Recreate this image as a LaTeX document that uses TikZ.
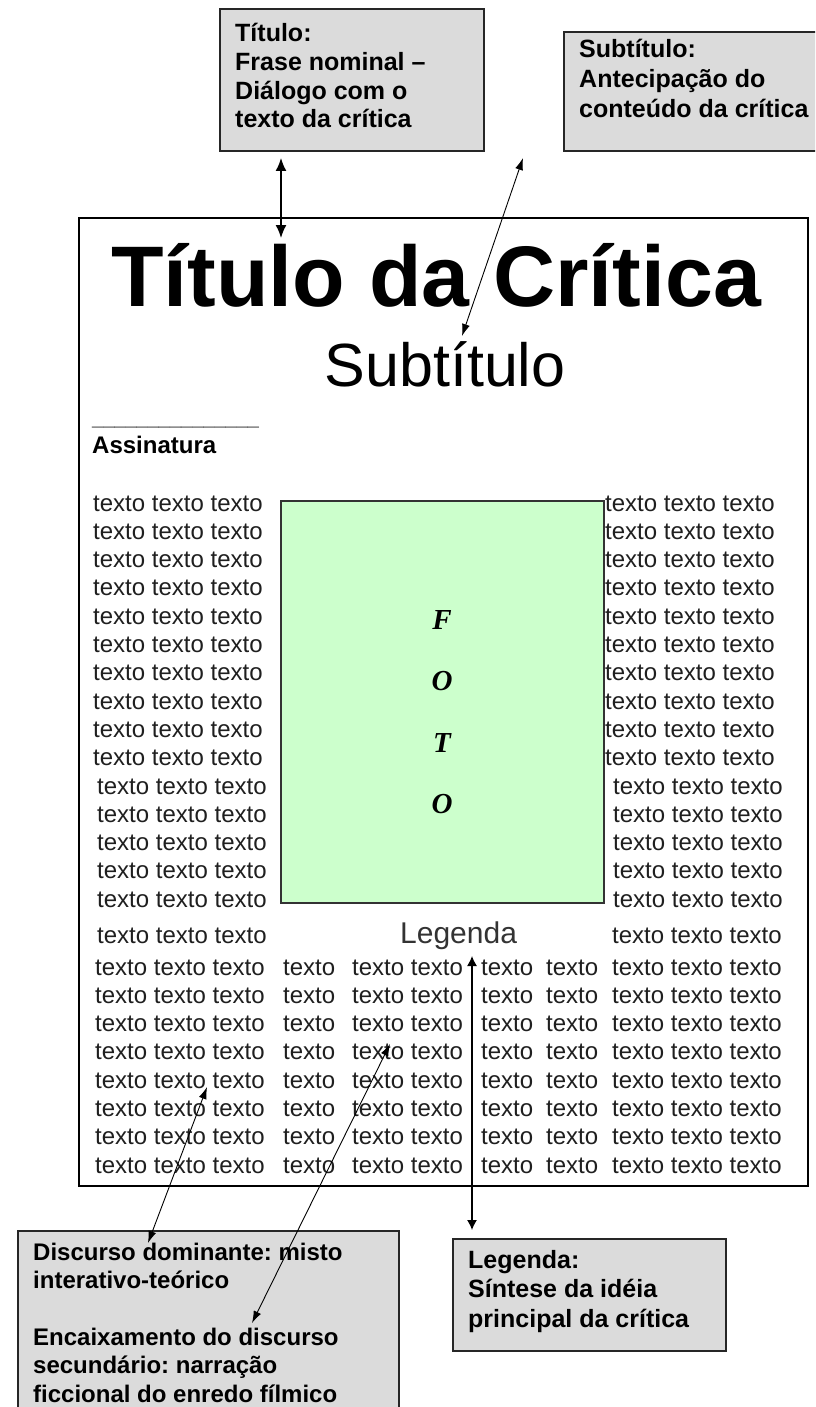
\documentclass[tikz,border=0pt]{standalone}
\usepackage{fontspec}
\setmainfont{Liberation Sans}
\newfontfamily\fotofont{Liberation Serif}
\usetikzlibrary{arrows.meta}
\frenchspacing
\begin{document}
\begin{tikzpicture}[x=1pt,y=-1pt,
  gbox/.style={draw=black!85, line width=1.6pt, fill=black!14, inner sep=0pt, anchor=north west},
  btxt/.style={anchor=base west, align=left, inner sep=0pt},
  tx/.style={anchor=base west, inner sep=0pt, font=\fontsize{24}{24}\selectfont, text=black!88},
  fotoletter/.style={inner sep=0pt, font=\fontsize{29}{29}\selectfont\fotofont\bfseries\itshape},
  thickarrow/.style={line width=1.6pt, {Latex[length=13pt,width=11pt]}-{Latex[length=13pt,width=11pt]}},
  thinarrow/.style={line width=0.9pt, {Latex[length=12pt,width=8pt]}-{Latex[length=12pt,width=8pt]}},
  midarrow/.style={line width=1.3pt, {Latex[length=10pt,width=10pt]}-{Latex[length=10pt,width=10pt]}}
]
\useasboundingbox (0,0) rectangle (815,1407);
\clip (0,0) rectangle (815,1407);
\fill[white] (0,0) rectangle (815,1407);

% top boxes (multi-line text nodes are placed by the baseline of their last line)
\node[gbox, minimum width=264pt, minimum height=142pt] (b1) at (219,8) {};
\node[btxt, font=\fontsize{25}{28.7}\selectfont\bfseries] (b1t) at (235,128)
  {Título:\\Frase nominal –\\Diálogo com o\\texto da crítica};
\node[gbox, minimum width=260pt, minimum height=119pt] (b2) at (563,31) {};
\node[btxt, font=\fontsize{25}{30}\selectfont\bfseries] (b2t) at (579,118)
  {Subtítulo:\\Antecipação do\\conteúdo da crítica};

% page
\node[draw=black, line width=1.5pt, fill=white, minimum width=729pt, minimum height=968pt, anchor=north west, inner sep=0pt] (page) at (78,217) {};

\node[anchor=base, inner sep=0pt, font=\fontsize{86}{86}\selectfont\bfseries] (titulo) at (436,306) {Título da Crítica};
\node[anchor=base, inner sep=0pt, font=\fontsize{61}{61}\selectfont] (subtitulo) at (445,386) {Subtítulo};

\node[anchor=base west, inner sep=0pt, font=\fontsize{20}{20}\selectfont\bfseries] (linha) at (92,425) {\_\_\_\_\_\_\_\_\_\_\_\_\_\_\_};
\node[anchor=base west, inner sep=0pt, font=\fontsize{24}{24}\selectfont\bfseries] (assin) at (92,453) {Assinatura};

% photo
\node[draw=black!80, line width=1.5pt, fill={rgb,255:red,204;green,255;blue,204}, minimum width=323pt, minimum height=402pt, anchor=north west, inner sep=0pt] (foto) at (280,500) {};
\node[fotoletter] (f1) at (442,620) {F};
\node[fotoletter] (f2) at (442,681) {O};
\node[fotoletter] (f3) at (442,743) {T};
\node[fotoletter] (f4) at (442,804) {O};

% text columns beside photo
\foreach \r in {0,...,14}{
  \pgfmathsetmacro{\yy}{511+28.3*\r}
  \pgfmathsetmacro{\xl}{\r<10 ? 93 : 97}
  \pgfmathsetmacro{\xr}{\r<10 ? 605 : 613}
  \node[tx] (L\r) at (\xl,\yy) {texto texto texto};
  \node[tx] (R\r) at (\xr,\yy) {texto texto texto};
}
% legenda row
\node[tx] (L15) at (97,943) {texto texto texto};
\node[tx] (R15) at (612,943) {texto texto texto};
\node[anchor=base west, inner sep=0pt, font=\fontsize{30}{30}\selectfont, text=black!80] (legenda) at (400,943) {Legenda};

% lower rows
\foreach \k in {0,...,7}{
  \pgfmathsetmacro{\yy}{975+28.3*\k}
  \node[tx] (A\k) at (95,\yy) {texto texto texto};
  \node[tx] (B\k) at (283,\yy) {texto};
  \node[tx] (C\k) at (352,\yy) {texto texto};
  \node[tx] (D\k) at (481,\yy) {texto};
  \node[tx] (E\k) at (546,\yy) {texto};
  \node[tx] (F\k) at (612,\yy) {texto texto texto};
}

% bottom boxes
\node[gbox, minimum width=273pt, minimum height=112pt] (b3) at (452,1238) {};
\node[btxt, font=\fontsize{25}{29.5}\selectfont\bfseries] (b3t) at (468,1327)
  {Legenda:\\Síntese da idéia\\principal da crítica};
\node[gbox, minimum width=381pt, minimum height=190pt] (b4) at (17,1230) {};
\node[btxt, font=\fontsize{24}{28.4}\selectfont\bfseries] (b4t) at (33,1402)
  {Discurso dominante: misto\\interativo-teórico\\[28.4pt]Encaixamento do discurso\\secundário: narração\\ficcional do enredo fílmico};

% connectors
\coordinate (p1a) at (281,158);
\coordinate (p1b) at (281,238);
\draw[thickarrow] (p1a) -- (p1b);
\coordinate (p2a) at (523,158);
\coordinate (p2b) at (462,336);
\draw[thinarrow] (p2a) -- (p2b);
\coordinate (p3a) at (472,956);
\coordinate (p3b) at (472,1230);
\draw[midarrow] (p3a) -- (p3b);
\coordinate (p4a) at (207,1087);
\coordinate (p4b) at (148,1243);
\draw[thinarrow] (p4a) -- (p4b);
\coordinate (p5a) at (390,1044);
\coordinate (p5b) at (252,1323);
\draw[thinarrow] (p5a) -- (p5b);
\end{tikzpicture}
\end{document}
